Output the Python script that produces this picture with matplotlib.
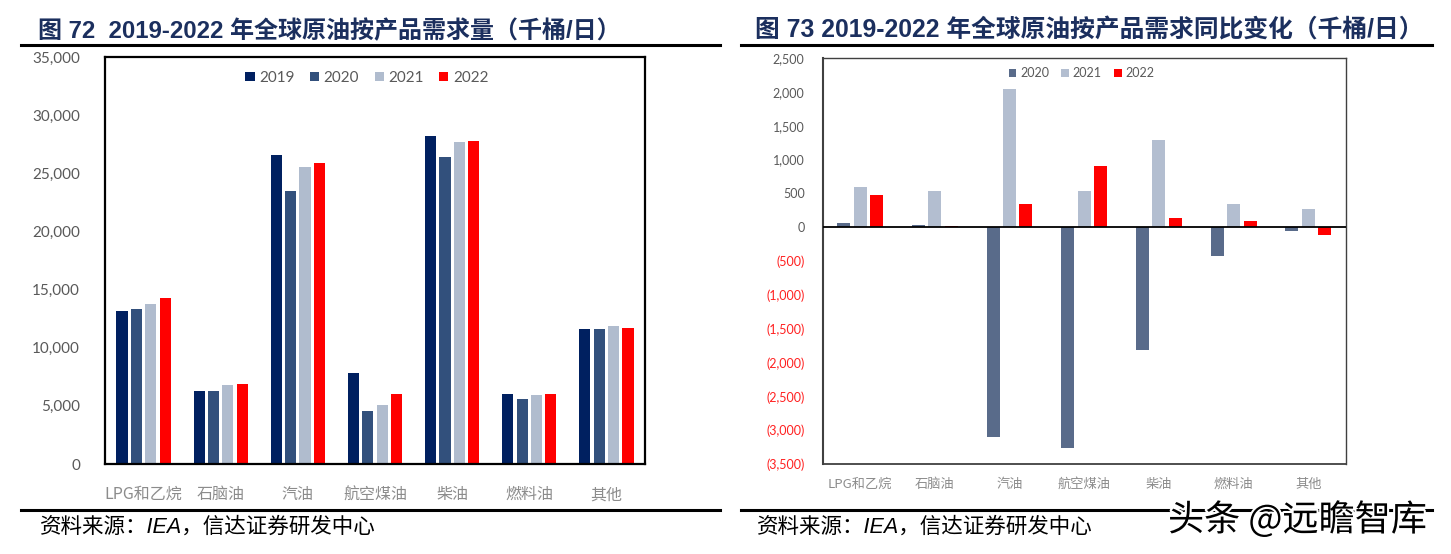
import matplotlib
matplotlib.use("Agg")
import matplotlib.pyplot as plt
import numpy as np
from matplotlib.lines import Line2D
from matplotlib.ticker import FuncFormatter
import matplotlib.patheffects as pe

plt.rcParams['font.family'] = ['Lato', 'Noto Sans CJK SC', 'DejaVu Sans']

categories = ["LPG和乙烷", "石脑油", "汽油", "航空煤油", "柴油", "燃料油", "其他"]

# Chart 72: demand (kb/d)
years_left = ["2019", "2020", "2021", "2022"]
d2019 = [13200, 6300, 26600, 7800, 28200, 6000, 11600]
d2020 = [13300, 6300, 23500, 4600, 26400, 5600, 11600]
d2021 = [13800, 6800, 25500, 5100, 27700, 5900, 11900]
d2022 = [14300, 6900, 25900, 6000, 27800, 6000, 11700]

# Chart 73: YoY change (kb/d)
years_right = ["2020", "2021", "2022"]
c2020 = [60, 30, -3100, -3270, -1810, -430, -60]
c2021 = [600, 540, 2040, 540, 1290, 340, 270]
c2022 = [470, 20, 340, 900, 130, 90, -120]

left_colors = ["#002060", "#32507C", "#B0BCCE", "#FF0000"]
right_colors = ["#596B8A", "#B3BED0", "#FF0000"]

title_left = "图 72  2019-2022 年全球原油按产品需求量（千桶/日）"
title_right = "图 73 2019-2022 年全球原油按产品需求同比变化（千桶/日）"
source = "资料来源：IEA，信达证券研发中心"
watermark = "头条 @远瞻智库"

W, H = 1451, 554
fig = plt.figure(figsize=(W / 100, H / 100), dpi=100)

def fx(px):
    return px / W

def fy(py):
    return 1 - py / H

cjk = ['Noto Sans CJK SC', 'DejaVu Sans']
navy = "#1B2F5E"

# Titles and rules
fig.text(fx(38), fy(31), title_left, fontsize=17.3, fontweight='bold', color=navy,
         family=['Liberation Sans', 'Noto Sans CJK SC'], va='center', ha='left')
fig.text(fx(755), fy(31), title_right, fontsize=17.8, fontweight='bold', color=navy,
         family=['Liberation Sans', 'Noto Sans CJK SC'], va='center', ha='left')
for x0, x1 in [(21, 720), (741, 1432)]:
    fig.add_artist(Line2D([fx(x0), fx(x1)], [fy(45), fy(45)], color='black', lw=2.2,
                          transform=fig.transFigure))
    fig.add_artist(Line2D([fx(x0), fx(x1)], [fy(510), fy(510)], color='black', lw=2.2,
                          transform=fig.transFigure))
fig.text(fx(40), fy(527), source, fontsize=15.5, style='italic', color='black',
         family=['Liberation Sans', 'Noto Sans CJK SC'], va='center', ha='left')
fig.text(fx(757), fy(527), source, fontsize=15.5, style='italic', color='black',
         family=['Liberation Sans', 'Noto Sans CJK SC'], va='center', ha='left')
fig.text(fx(1168), fy(520), watermark, fontsize=26, color='black', family=cjk,
         va='center', ha='left',
         path_effects=[pe.withStroke(linewidth=3, foreground='white')])

# ---------- Left chart ----------
axL = fig.add_axes([fx(105), fy(464), fx(645) - fx(105), fy(57) - fy(464)])
x = np.arange(len(categories))
seriesL = [d2019, d2020, d2021, d2022]
pitch, bw = 0.186, 0.145
for i, (vals, col, lab) in enumerate(zip(seriesL, left_colors, years_left)):
    axL.bar(x + (i - 1.5) * pitch, vals, width=bw, color=col, label=lab, zorder=2)
axL.set_xlim(-0.5, len(categories) - 0.5)
axL.set_ylim(0, 35000)
axL.set_yticks(np.arange(0, 35001, 5000))
axL.yaxis.set_major_formatter(FuncFormatter(lambda v, p: f"{int(v):,}"))
axL.set_xticks(x)
axL.set_xticklabels(categories, family=cjk, fontsize=11.5, color='#8C8C8C')
axL.tick_params(axis='x', length=0, pad=16)
axL.tick_params(axis='y', length=0, pad=18, labelsize=11, labelcolor='#595959')
for s in axL.spines.values():
    s.set_color('black')
    s.set_linewidth(1.6)
axL.legend(loc='upper center', bbox_to_anchor=(0.485, 1.0), ncol=4, frameon=False,
           fontsize=11, handlelength=0.6, handleheight=0.6, handletextpad=0.3,
           columnspacing=1.0, labelcolor='#595959')

# ---------- Right chart ----------
axR = fig.add_axes([fx(822.7), fy(464), fx(1345.7) - fx(822.7), fy(58) - fy(464)])
seriesR = [c2020, c2021, c2022]
pitchR, bwR = 0.22, 0.174
for i, (vals, col, lab) in enumerate(zip(seriesR, right_colors, years_right)):
    axR.bar(x + (i - 1) * pitchR, vals, width=bwR, color=col, label=lab, zorder=2)
axR.set_xlim(-0.5, len(categories) - 0.5)
axR.set_ylim(-3500, 2500)
yt = np.arange(-3500, 2501, 500)
axR.set_yticks(yt)

def fmt(v, p):
    v = int(round(v))
    if v < 0:
        return f"({-v:,})"
    return f"{v:,}"

axR.yaxis.set_major_formatter(FuncFormatter(fmt))
axR.axhline(0, color='black', lw=1.3, zorder=3)
axR.set_xticks(x)
axR.set_xticklabels(categories, family=cjk, fontsize=9.5, color='#8C8C8C')
axR.tick_params(axis='x', length=0, pad=10)
axR.tick_params(axis='y', length=0, pad=13, labelsize=9, labelcolor='#595959')
for lbl, v in zip(axR.get_yticklabels(), yt):
    if v < 0:
        lbl.set_color('#FF2020')
for name, s in axR.spines.items():
    s.set_color('#404040')
    s.set_linewidth(1.0)
axR.spines['left'].set_linewidth(1.5)
axR.spines['bottom'].set_linewidth(1.3)
axR.legend(loc='upper center', bbox_to_anchor=(0.495, 1.005), ncol=3, frameon=False,
           fontsize=9, handlelength=0.6, handleheight=0.6, handletextpad=0.3,
           columnspacing=1.0, labelcolor='#595959')

fig.savefig("out.png", dpi=100)
